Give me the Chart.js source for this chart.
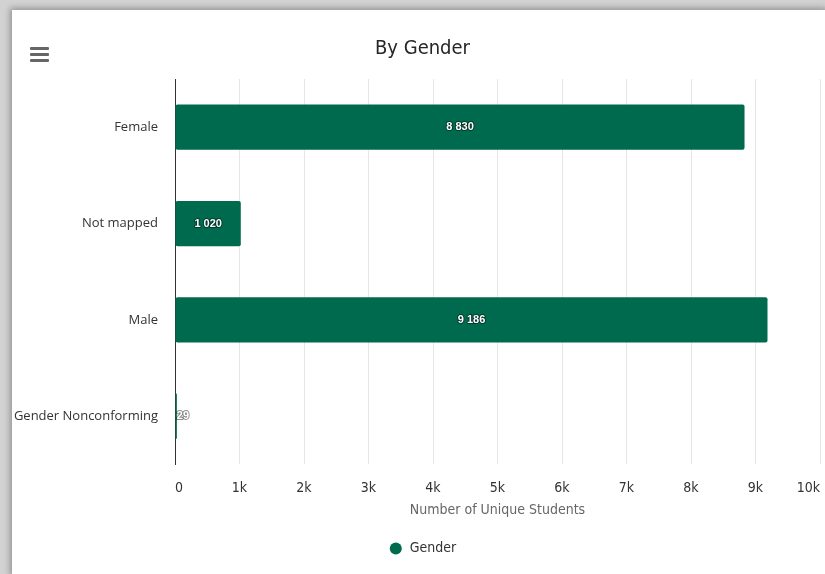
<!DOCTYPE html>
<html>
<head>
<meta charset="utf-8">
<title>By Gender</title>
<script src="https://cdn.jsdelivr.net/npm/chart.js@4.4.1/dist/chart.umd.min.js"></script>
<style>
    html, body { margin: 0; padding: 0; }
    body { width: 825px; height: 574px; background: #d2d2d2; overflow: hidden; position: relative; }
    #card { position: absolute; left: 12px; top: 10px; width: 813px; height: 564px; background: #fff; box-shadow: 0 0 6px 2px rgba(0,0,0,0.3); }
    #menu { position: absolute; left: 18px; top: 37px; width: 19px; }
    #menu span { display: block; height: 3px; background: #666; border-radius: 1px; margin-bottom: 3px; }
    /* canvas is a bit wider than the card so title and legend sit where they do in the dashboard */
    #genderChart { position: absolute; left: 0; top: 0; }
</style>
</head>
<body>
<div id="card">
    <canvas id="genderChart" width="827" height="564"></canvas>
    <div id="menu"><span></span><span></span><span></span></div>
</div>
<script>
// chart data
const categories = ['Female', 'Not mapped', 'Male', 'Gender Nonconforming'];
const students = [8830, 1020, 9186, 29];
const xTickLabels = ['0', '1k', '2k', '3k', '4k', '5k', '6k', '7k', '8k', '9k', '10k'];

const condensed = '"Liberation Sans Narrow", "DejaVu Sans Condensed", Arial, sans-serif';

// 8830 -> "8 830"
function formatValue(v) {
    return String(v).replace(/\B(?=(\d{3})+(?!\d))/g, ' ');
}

// value labels inside the bars (outside when the bar is too short)
const barLabels = {
    id: 'barLabels',
    afterDatasetsDraw(chart) {
        const ctx = chart.ctx;
        const meta = chart.getDatasetMeta(0);
        ctx.save();
        ctx.font = 'bold 11px "Liberation Sans", Arial, sans-serif';
        ctx.textBaseline = 'middle';
        ctx.lineJoin = 'round';
        meta.data.forEach((bar, i) => {
            const text = formatValue(students[i]);
            const w = ctx.measureText(text).width;
            const barW = bar.x - bar.base;
            let x = (bar.x + bar.base) / 2;
            ctx.textAlign = 'center';
            if (w + 6 > barW) {
                x = bar.x;
                ctx.textAlign = 'left';
            }
            ctx.strokeStyle = 'rgba(0,0,0,0.45)';
            ctx.lineWidth = 2;
            ctx.strokeText(text, x, bar.y);
            ctx.fillStyle = '#fff';
            ctx.fillText(text, x, bar.y);
        });
        ctx.restore();
    }
};

const ctx = document.getElementById('genderChart').getContext('2d');
new Chart(ctx, {
    type: 'bar',
    data: {
        labels: categories,
        datasets: [{
            label: 'Gender',
            data: students,
            backgroundColor: '#006a4e',
            borderRadius: 2,
            borderSkipped: false,
            barPercentage: 0.47,
            categoryPercentage: 1
        }]
    },
    options: {
        indexAxis: 'y',
        responsive: false,
        animation: false,
        layout: {
            padding: { top: 27, right: 6, bottom: 8.6, left: 0 }
        },
        scales: {
            x: {
                min: 0,
                max: 10000,
                ticks: {
                    stepSize: 1000,
                    align: 'inner',
                    padding: 16,
                    color: '#333',
                    font: { family: condensed, size: 14 },
                    callback: (v, i) => xTickLabels[i]
                },
                grid: { color: '#e6e6e6', drawTicks: false },
                border: { display: false },
                title: {
                    display: true,
                    text: 'Number of Unique Students',
                    color: '#666',
                    font: { family: condensed, size: 14 },
                    padding: { top: 0, bottom: 13 }
                },
                afterFit: scale => {
                    scale.height = 67;
                    scale.paddingLeft = 0;
                    scale.paddingRight = 19;
                }
            },
            y: {
                ticks: {
                    padding: 17,
                    color: '#333',
                    font: { family: '"Open Sans", Arial, sans-serif', size: 13 }
                },
                grid: { drawOnChartArea: false, drawTicks: false },
                border: { display: true, color: '#333', width: 1 },
                afterFit: scale => {
                    scale.width = 163;
                    scale.paddingTop = 0;
                    scale.paddingBottom = 0;
                }
            }
        },
        plugins: {
            title: {
                display: true,
                text: 'By Gender',
                color: '#262626',
                font: { family: condensed, size: 20, weight: 'normal' },
                padding: { top: 0, bottom: 18 }
            },
            legend: {
                position: 'bottom',
                labels: {
                    usePointStyle: true,
                    pointStyle: 'circle',
                    boxWidth: 17,
                    boxHeight: 8.5,
                    color: '#333',
                    font: { family: condensed, size: 14 }
                }
            },
            tooltip: { enabled: false }
        }
    },
    plugins: [barLabels]
});
</script>
</body>
</html>
